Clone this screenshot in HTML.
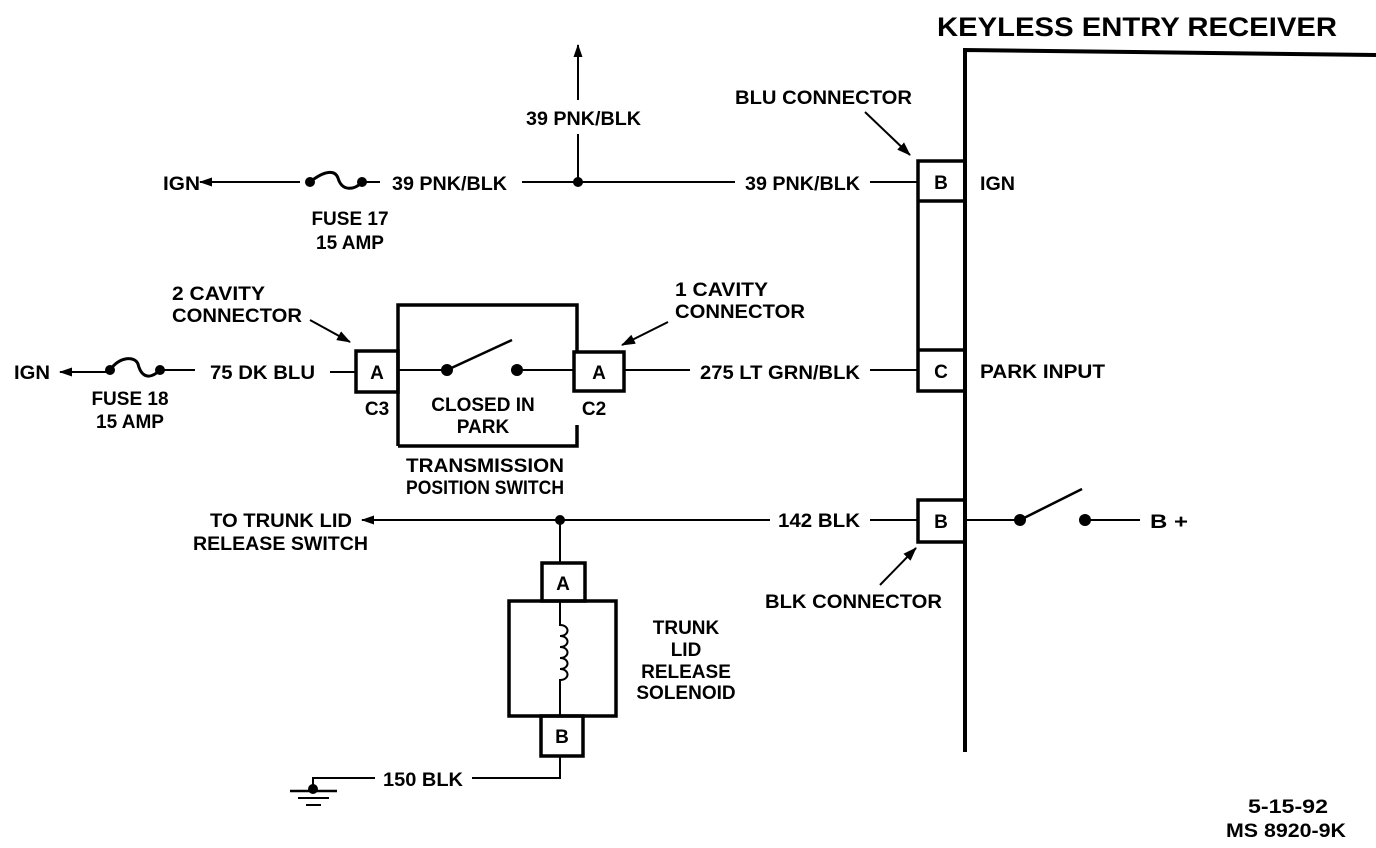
<!DOCTYPE html>
<html><head><meta charset="utf-8"><style>
html,body{margin:0;padding:0;background:#fff;}
svg{display:block;}
text{font-family:"Liberation Sans",sans-serif;font-weight:bold;fill:#000;}
</style></head><body>
<svg width="1376" height="848" viewBox="0 0 1376 848" xmlns="http://www.w3.org/2000/svg">
<defs>
<marker id="ah" markerWidth="13" markerHeight="9" refX="12" refY="4.5" orient="auto" markerUnits="userSpaceOnUse"><path d="M0,0 L13,4.5 L0,9 Z" fill="#000"/></marker>
<marker id="ah2" markerWidth="14" markerHeight="10" refX="13" refY="5" orient="auto" markerUnits="userSpaceOnUse"><path d="M0,0 L14,5 L0,10 Z" fill="#000"/></marker>
</defs>
<g stroke="#000" fill="none" stroke-width="2">
<path d="M965,752 L965,50 L1376,55" stroke-width="4"/>
<rect x="918" y="161" width="47" height="230" stroke-width="3.5"/>
<line x1="918" y1="201" x2="965" y2="201" stroke-width="3.5"/>
<line x1="918" y1="350" x2="965" y2="350" stroke-width="3.5"/>
<rect x="918" y="500" width="47" height="42" stroke-width="3.5"/>
<line x1="300" y1="182" x2="200" y2="182" marker-end="url(#ah)"/>
<path d="M310,182 C325,170 335,170 338,178 C342,192 355,190 362,182" stroke-width="3"/>
<line x1="362" y1="182" x2="380" y2="182"/>
<line x1="522" y1="182" x2="735" y2="182"/>
<line x1="870" y1="182" x2="918" y2="182"/>
<line x1="578" y1="182" x2="578" y2="134"/>
<line x1="578" y1="100" x2="578" y2="45" marker-end="url(#ah)"/>
<line x1="865" y1="112" x2="910" y2="155" marker-end="url(#ah2)"/>
<line x1="110" y1="372" x2="60" y2="372" marker-end="url(#ah)"/>
<path d="M110,370 C120,356 135,356 138,364 C142,380 152,378 160,370" stroke-width="3"/>
<line x1="160" y1="370" x2="195" y2="370"/>
<line x1="330" y1="372" x2="355" y2="372"/>
<rect x="356" y="351" width="42" height="41" stroke-width="3.5"/>
<path d="M398,446 L398,305 L577,305 L577,352 M577,425 L577,446 L398,446" stroke-width="3.5"/>
<rect x="574" y="352" width="50" height="39" stroke-width="3.5"/>
<line x1="398" y1="370" x2="447" y2="370"/>
<line x1="447" y1="370" x2="512" y2="340" stroke-width="2.5"/>
<line x1="517" y1="370" x2="574" y2="370"/>
<line x1="624" y1="370" x2="690" y2="370"/>
<line x1="870" y1="370" x2="918" y2="370"/>
<line x1="310" y1="320" x2="350" y2="342" marker-end="url(#ah2)"/>
<line x1="668" y1="322" x2="622" y2="345" marker-end="url(#ah2)"/>
<line x1="770" y1="520" x2="362" y2="520" marker-end="url(#ah)"/>
<line x1="870" y1="520" x2="918" y2="520"/>
<line x1="965" y1="520" x2="1020" y2="520"/>
<line x1="1020" y1="520" x2="1082" y2="489" stroke-width="2.5"/>
<line x1="1085" y1="520" x2="1140" y2="520"/>
<line x1="880" y1="585" x2="916" y2="548" marker-end="url(#ah2)"/>
<line x1="560" y1="520" x2="560" y2="563"/>
<rect x="542" y="563" width="43" height="38" stroke-width="3.5"/>
<rect x="509" y="601" width="107" height="115" stroke-width="3.5"/>
<rect x="541" y="716" width="42" height="40" stroke-width="3.5"/>
<path d="M560,601 L560,625 C570,625 570,636 560,636 C570,636 570,647 560,647 C570,647 570,658 560,658 C570,658 570,669 560,669 C570,669 570,680 560,680 L560,716"/>
<path d="M560,756 L560,778 L472,778 M375,778 L313,778 L313,790"/>
<line x1="290" y1="791" x2="337" y2="791" stroke-width="2.5"/>
<line x1="298" y1="798" x2="329" y2="798" stroke-width="2"/>
<line x1="306" y1="805" x2="321" y2="805" stroke-width="2"/>
</g>
<g fill="#000">
<circle cx="310" cy="182" r="5"/><circle cx="362" cy="182" r="5"/><circle cx="578" cy="182" r="5"/>
<circle cx="110" cy="370" r="5"/><circle cx="160" cy="370" r="5"/>
<circle cx="447" cy="370" r="6"/><circle cx="517" cy="370" r="6"/>
<circle cx="560" cy="520" r="5"/><circle cx="1020" cy="520" r="6"/><circle cx="1085" cy="520" r="6"/>
<circle cx="313" cy="789" r="5"/>
</g>
<g font-size="19">
<text x="937" y="36" font-size="27" textLength="400" lengthAdjust="spacingAndGlyphs">KEYLESS ENTRY RECEIVER</text>
<text x="163" y="190" textLength="37" lengthAdjust="spacingAndGlyphs">IGN</text>
<text x="392" y="190" textLength="115" lengthAdjust="spacingAndGlyphs">39 PNK/BLK</text>
<text x="526" y="125" textLength="115" lengthAdjust="spacingAndGlyphs">39 PNK/BLK</text>
<text x="745" y="190" textLength="115" lengthAdjust="spacingAndGlyphs">39 PNK/BLK</text>
<text x="735" y="104" textLength="177" lengthAdjust="spacingAndGlyphs">BLU CONNECTOR</text>
<text x="941" y="189" text-anchor="middle">B</text>
<text x="980" y="190" textLength="35" lengthAdjust="spacingAndGlyphs">IGN</text>
<text x="350" y="225" text-anchor="middle">FUSE 17</text>
<text x="350" y="249" text-anchor="middle">15 AMP</text>
<text x="172" y="300" textLength="93" lengthAdjust="spacingAndGlyphs">2 CAVITY</text>
<text x="172" y="322" textLength="130" lengthAdjust="spacingAndGlyphs">CONNECTOR</text>
<text x="675" y="296" textLength="93" lengthAdjust="spacingAndGlyphs">1 CAVITY</text>
<text x="675" y="318" textLength="130" lengthAdjust="spacingAndGlyphs">CONNECTOR</text>
<text x="14" y="379" textLength="36" lengthAdjust="spacingAndGlyphs">IGN</text>
<text x="210" y="379" textLength="105" lengthAdjust="spacingAndGlyphs">75 DK BLU</text>
<text x="377" y="379" text-anchor="middle">A</text>
<text x="599" y="379" text-anchor="middle">A</text>
<text x="377" y="415" text-anchor="middle">C3</text>
<text x="594" y="415" text-anchor="middle">C2</text>
<text x="483" y="411" text-anchor="middle">CLOSED IN</text>
<text x="483" y="433" text-anchor="middle">PARK</text>
<text x="130" y="405" text-anchor="middle">FUSE 18</text>
<text x="130" y="428" text-anchor="middle">15 AMP</text>
<text x="700" y="379" textLength="160" lengthAdjust="spacingAndGlyphs">275 LT GRN/BLK</text>
<text x="941" y="378" text-anchor="middle">C</text>
<text x="980" y="378" textLength="125" lengthAdjust="spacingAndGlyphs">PARK INPUT</text>
<text x="485" y="472" text-anchor="middle" textLength="158" lengthAdjust="spacingAndGlyphs">TRANSMISSION</text>
<text x="485" y="494" text-anchor="middle" textLength="158" lengthAdjust="spacingAndGlyphs">POSITION SWITCH</text>
<text x="210" y="527" textLength="142" lengthAdjust="spacingAndGlyphs">TO TRUNK LID</text>
<text x="193" y="550" textLength="175" lengthAdjust="spacingAndGlyphs">RELEASE SWITCH</text>
<text x="778" y="527" textLength="82" lengthAdjust="spacingAndGlyphs">142 BLK</text>
<text x="941" y="528" text-anchor="middle">B</text>
<text x="1150" y="528" textLength="38" lengthAdjust="spacingAndGlyphs">B +</text>
<text x="765" y="608" textLength="177" lengthAdjust="spacingAndGlyphs">BLK CONNECTOR</text>
<text x="563" y="590" text-anchor="middle">A</text>
<text x="562" y="743" text-anchor="middle">B</text>
<text x="686" y="634" text-anchor="middle">TRUNK</text>
<text x="686" y="656" text-anchor="middle">LID</text>
<text x="686" y="678" text-anchor="middle">RELEASE</text>
<text x="686" y="699" text-anchor="middle">SOLENOID</text>
<text x="383" y="786" textLength="80" lengthAdjust="spacingAndGlyphs">150 BLK</text>
<text x="1248" y="813" textLength="80" lengthAdjust="spacingAndGlyphs">5-15-92</text>
<text x="1226" y="837" textLength="120" lengthAdjust="spacingAndGlyphs">MS 8920-9K</text>
</g>
</svg>
</body></html>
